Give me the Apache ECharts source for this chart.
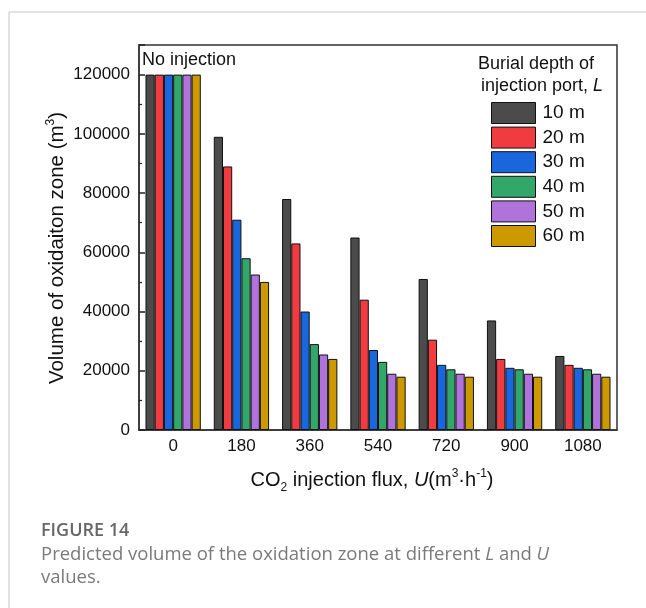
<!DOCTYPE html>
<html><head><meta charset="utf-8">
<script src="https://cdn.jsdelivr.net/npm/echarts@6/dist/echarts.min.js"></script>
<style>html,body{margin:0;padding:0;background:#fff}#c{width:646px;height:608px}</style>
</head><body><div id="c"></div>
<script>
const categories = ['0','180','360','540','720','900','1080'];
const seriesNames = ['10 m','20 m','30 m','40 m','50 m','60 m'];
const d10 = [120000, 99000, 78000, 65000, 51000, 37000, 25000];
const d20 = [120000, 89000, 63000, 44000, 30500, 24000, 22000];
const d30 = [120000, 71000, 40000, 27000, 22000, 21000, 21000];
const d40 = [120000, 58000, 29000, 23000, 20500, 20500, 20500];
const d50 = [120000, 52500, 25500, 19000, 19000, 19000, 19000];
const d60 = [120000, 50000, 24000, 18000, 18000, 18000, 18000];
const colors = ['#4b4b4b','#f03c41','#1a66dd','#33a66a','#b072db','#cc9900'];
const allData = [d10,d20,d30,d40,d50,d60];

const chart = echarts.init(document.getElementById('c'), null, {renderer:'canvas'});
const font = 'Liberation Sans, Arial, sans-serif';
const cap = '"Open Sans", sans-serif';
const series = allData.map((d,i)=>({
  name: seriesNames[i], type:'bar', data:d, barGap:'0%', barCategoryGap:'19%',
  itemStyle:{color:colors[i], borderColor:'#111', borderWidth:1},
  xAxisIndex:0, yAxisIndex:0
}));
chart.setOption({
  animation:false,
  textStyle:{fontFamily:font},
  grid:{left:139,right:29,top:45,bottom:178,show:true,borderColor:'#333',borderWidth:1.5,backgroundColor:'transparent'},
  xAxis:[{
    type:'category', data:categories,
    axisLine:{lineStyle:{color:'#333',width:1.5}},
    axisTick:{inside:true,alignWithLabel:true,length:5,lineStyle:{color:'#222',width:1.5}},
    axisLabel:{color:'#111',fontSize:17,margin:8,fontFamily:font},
    name:'{n|CO}{sub|2}{n| injection flux, }{i|U}{n|(m}{sup|3}{n|·h}{sup|-1}{n|)}',
    nameLocation:'middle', nameGap:38,
    nameTextStyle:{padding:[0,12,0,0],rich:{
      n:{fontSize:20,color:'#111',fontFamily:font,lineHeight:24},
      i:{fontSize:20,color:'#111',fontFamily:font,fontStyle:'italic',lineHeight:24},
      sup:{fontSize:12,color:'#111',fontFamily:font,verticalAlign:'top',lineHeight:24},
      sub:{fontSize:12,color:'#111',fontFamily:font,verticalAlign:'bottom',lineHeight:24,padding:[0,0,-2,0]}
    }}
  },{
    type:'category', data:categories, position:'bottom',
    axisLine:{show:false},
    axisTick:{inside:true,alignWithLabel:false,length:4,lineStyle:{color:'#222',width:1.2}},
    axisLabel:{show:false}
  }],
  yAxis:{
    type:'value', min:0, max:130000, interval:20000,
    splitLine:{show:false},
    axisLine:{show:true,lineStyle:{color:'#333',width:1.5}},
    axisTick:{show:true,inside:true,length:6,lineStyle:{color:'#222',width:1.5}},
    minorTick:{show:true,splitNumber:2,length:3,lineStyle:{color:'#222',width:1.2}},
    axisLabel:{color:'#111',fontSize:17,margin:9,fontFamily:font,
      formatter:v=> v>120000 ? '' : String(v)}
  },
  legend:{
    orient:'vertical', left:486, top:97, itemWidth:44, itemHeight:21, itemGap:2.6,
    icon:'rect', data:seriesNames,
    itemStyle:{borderColor:'#111',borderWidth:1},
    textStyle:{fontSize:19,color:'#111',fontFamily:font,padding:[0,0,0,2],lineHeight:21}
  },
  series:series,
  graphic:[
    {type:'line',shape:{x1:9,y1:12,x2:646,y2:12},style:{stroke:'#d9d9d9',lineWidth:1.5},silent:true},
    {type:'line',shape:{x1:9,y1:12,x2:9,y2:608},style:{stroke:'#d9d9d9',lineWidth:1.5},silent:true},
    {type:'text',x:57,y:248,rotation:Math.PI/2,style:{
      text:'{n|Volume of oxidaiton zone (m}{sup|3}{n|)}',align:'center',verticalAlign:'middle',
      rich:{
        n:{fontSize:20.5,fill:'#111',fontFamily:font,lineHeight:24},
        sup:{fontSize:12,fill:'#111',fontFamily:font,verticalAlign:'top',lineHeight:24}
      }}},
    {type:'text',left:142,top:51,style:{text:'No injection',font:'18px '+font,fill:'#111'}},
    {type:'text',left:478,top:55,style:{text:'Burial depth of',font:'18px '+font,fill:'#111'}},
    {type:'text',left:481,top:77,style:{rich:{
      n:{fontSize:18,fontFamily:font,fill:'#111'},
      i:{fontSize:18,fontFamily:font,fontStyle:'italic',fill:'#111'}},
      text:'{n|injection port, }{i|L}'}},
    {type:'text',left:41,top:522,style:{text:'FIGURE 14',font:'600 18px '+cap,fill:'#676767'}},
    {type:'text',left:41,top:545,style:{rich:{
      n:{fontSize:18.5,fontFamily:cap,fill:'#7a7a7a'},
      i:{fontSize:18.5,fontFamily:cap,fontStyle:'italic',fill:'#7a7a7a'}},
      text:'{n|Predicted volume of the oxidation zone at different }{i|L}{n| and }{i|U}'}},
    {type:'text',left:41,top:568,style:{text:'values.',font:'18.5px '+cap,fill:'#7a7a7a'}}
  ]
});
</script></body></html>
